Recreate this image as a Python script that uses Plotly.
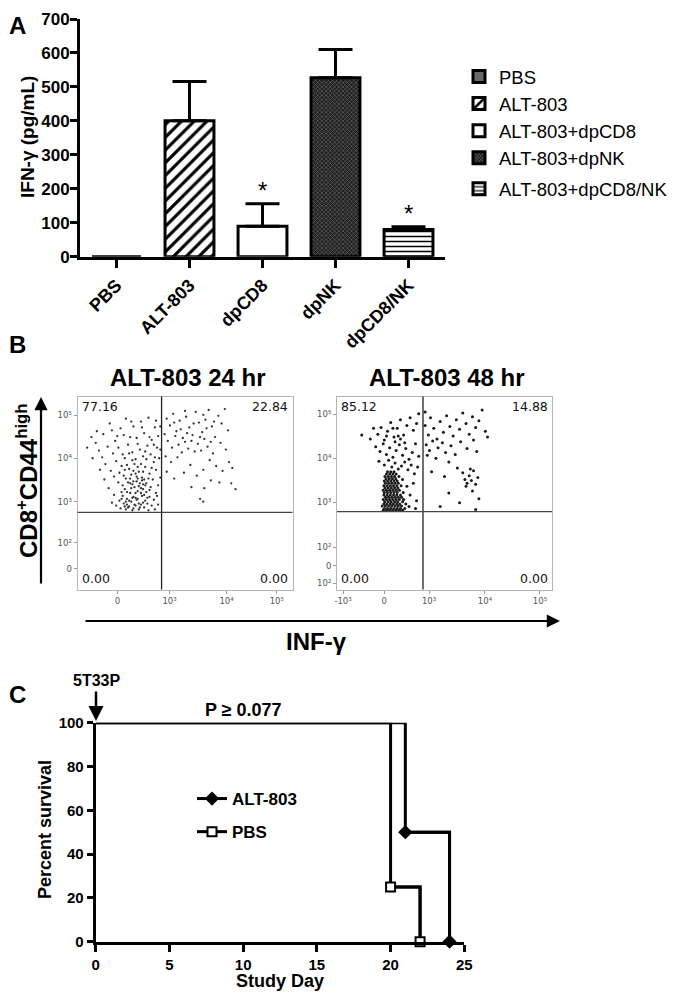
import plotly.graph_objects as go

FONT = "Liberation Sans, Arial, sans-serif"
W, H = 690, 1004
OX, OY = 8, 8  # page body offset of the rendered figure

# ---------------- Panel A data ----------------
categories = ["PBS", "ALT-803", "dpCD8", "dpNK", "dpCD8/NK"]
legend_names = ["PBS", "ALT-803", "ALT-803+dpCD8", "ALT-803+dpNK", "ALT-803+dpCD8/NK"]
ifn_mean = [0, 400, 90, 527, 80]
ifn_sem = [0, 116, 66, 83, 8]
significant = [False, False, True, False, True]

# ---------------- Panel B data (display channel units, 0-100) ----------------
flow24_ticks_x = [18.6, 42.8, 69.3, 92.7]
flow24_ticktext_x = ["0", "10³", "10⁴", "10⁵"]
flow24_ticks_y = [10.7, 24.2, 45.5, 68.0, 90.2]
flow24_ticktext_y = ["0", "10²", "10³", "10⁴", "10⁵"]
flow24_gate = (39.1, 40.0)
flow24_quadrants = ["77.16", "22.84", "0.00", "0.00"]  # UL, UR, LL, LR

flow48_ticks_x = [2.8, 21.9, 42.8, 68.8, 94.4]
flow48_ticktext_x = ["-10³", "0", "10³", "10⁴", "10⁵"]
flow48_ticks_y = [3.3, 12.4, 21.9, 45.2, 67.9, 90.7]
flow48_ticktext_y = ["10²", "0", "10²", "10³", "10⁴", "10⁵"]
flow48_gate = (40.0, 40.4)
flow48_quadrants = ["85.12", "14.88", "0.00", "0.00"]

flow24_events = [
    (12.0, 80.5), (15.0, 86.0), (17.5, 77.0), (20.0, 83.5), (22.5, 88.5), (24.5, 79.0), (26.0, 84.5),
    (28.0, 75.5), (29.5, 87.0), (31.0, 81.0), (33.0, 89.0), (34.5, 77.5), (36.0, 84.0), (37.5, 79.5),
    (38.5, 72.5), (8.5, 76.0), (10.0, 72.0), (11.5, 68.5), (14.0, 74.0), (16.5, 70.5), (19.0, 73.5),
    (21.0, 70.0), (23.5, 75.0), (25.5, 71.0), (27.0, 67.5), (29.0, 72.5), (30.5, 69.0), (32.5, 74.5),
    (34.0, 70.0), (35.5, 66.0), (37.0, 73.5), (38.0, 68.0), (18.0, 66.5), (20.5, 64.0), (22.0, 68.0),
    (24.0, 62.5), (26.5, 65.0), (28.5, 61.0), (31.5, 63.5), (33.5, 60.0), (36.5, 62.0), (13.0, 65.0),
    (15.5, 61.5), (17.0, 58.5), (19.5, 60.5), (22.5, 57.5), (25.0, 59.5), (27.5, 56.0), (30.0, 58.0),
    (32.0, 55.0), (35.0, 57.0), (37.5, 54.0), (6.5, 79.0), (4.5, 73.5), (9.0, 82.0),
    (20.0, 42.0), (21.5, 44.5), (22.5, 41.5), (23.0, 47.0), (24.0, 43.0), (24.5, 50.0), (25.0, 45.5),
    (25.5, 41.0), (26.0, 48.0), (26.5, 53.0), (27.0, 43.5), (27.5, 46.5), (28.0, 51.0), (28.5, 41.5),
    (29.0, 55.0), (29.5, 44.0), (30.0, 48.5), (30.5, 52.0), (31.0, 42.5), (31.5, 46.0), (32.0, 50.5),
    (32.5, 44.5), (33.0, 41.0), (21.0, 48.5), (22.0, 52.0), (23.5, 55.5), (24.5, 57.5), (26.0, 56.0),
    (27.5, 58.5), (28.5, 53.5), (30.0, 56.5), (31.5, 54.0), (33.5, 48.0), (19.5, 46.0), (20.5, 50.5),
    (22.5, 45.5), (23.5, 42.5), (25.5, 47.5), (26.5, 44.0), (28.0, 47.0), (29.0, 42.5), (30.5, 45.0),
    (23.0, 50.5), (25.0, 52.5), (27.0, 50.0), (29.5, 50.0), (31.0, 49.0), (34.5, 43.5), (35.5, 46.5),
    (36.5, 50.0), (37.5, 44.0), (18.0, 43.5), (17.0, 49.0), (34.0, 53.0), (36.0, 41.5),
    (21.0, 54.0), (22.0, 43.0), (24.0, 46.0), (25.5, 54.5), (27.0, 47.5), (28.5, 44.5), (29.5, 52.5),
    (31.0, 57.0), (32.5, 47.5), (26.0, 42.0), (23.0, 44.0), (20.5, 47.0), (33.5, 51.5), (28.0, 57.5),
    (14.5, 52.5), (12.5, 57.0), (16.0, 45.0), (38.5, 58.0), (37.0, 48.5), (10.5, 62.0), (7.0, 68.0),
    (23.0, 64.5), (25.5, 67.0), (29.5, 65.0), (32.0, 67.5), (34.5, 63.0), (21.5, 59.0), (28.0, 63.5),
    (30.5, 61.0), (26.0, 61.5), (24.0, 70.5), (27.5, 78.5), (31.5, 71.5), (33.5, 79.0), (35.5, 75.0),
    (18.5, 79.5), (16.0, 82.5), (21.5, 80.0), (25.0, 87.0), (30.0, 84.0), (36.5, 87.5), (38.5, 84.5),
    (22.0, 62.0), (36.0, 68.5), (19.0, 55.5), (33.0, 57.5), (27.0, 60.0), (24.5, 55.0), (30.5, 54.5),
    (41.5, 88.5), (43.0, 85.0), (44.5, 91.0), (46.0, 82.0), (47.5, 87.5), (49.0, 78.5), (50.5, 89.5),
    (52.0, 84.0), (53.5, 80.0), (55.0, 92.0), (56.5, 86.5), (58.0, 81.5), (59.5, 88.0), (61.0, 93.0),
    (62.5, 84.5), (64.0, 79.0), (65.5, 90.0), (67.0, 86.0), (68.5, 93.5), (70.0, 82.5), (42.0, 77.0),
    (44.0, 73.5), (45.5, 79.5), (47.0, 75.0), (48.5, 71.0), (50.0, 76.5), (51.5, 73.0), (53.0, 77.0),
    (54.5, 71.5), (56.0, 75.5), (57.5, 72.0), (59.0, 78.0), (60.5, 74.0), (63.0, 70.5), (66.5, 76.0),
    (69.0, 72.5), (41.0, 69.0), (43.5, 66.0), (46.5, 68.5), (52.5, 64.5), (58.5, 62.0), (61.5, 67.0),
    (64.5, 64.0), (67.5, 61.5), (70.5, 66.0), (72.0, 63.0), (55.5, 59.0), (49.5, 60.5), (62.0, 56.5),
    (71.5, 55.0), (66.0, 55.5), (53.0, 53.0), (45.0, 57.5), (59.0, 52.5), (73.5, 52.0), (57.0, 47.0),
    (58.5, 45.5), (41.5, 61.0), (40.5, 80.5), (45.0, 86.5), (51.0, 81.0), (54.0, 86.0), (57.0, 79.0),
    (60.0, 83.5), (63.5, 87.0), (48.0, 83.0), (50.0, 92.5), (58.5, 90.5), (62.0, 76.5),
]

# dense low-IFN cluster at 48 hr: (y level, x positions)
flow48_cluster_rows = [
    (41.0, [21.5, 23.0, 24.5, 26.0, 27.5, 29.0, 30.5]),
    (42.0, [22.0, 23.5, 25.0, 26.5, 28.0, 29.5, 31.5]),
    (43.2, [21.0, 22.5, 24.0, 25.5, 27.0, 28.5, 30.0]),
    (44.3, [21.8, 23.2, 24.8, 26.2, 27.8, 29.2, 32.0]),
    (45.5, [22.2, 23.8, 25.2, 26.8, 28.2, 30.5]),
    (46.6, [21.5, 23.0, 24.5, 26.0, 27.5, 29.0, 31.0]),
    (47.8, [22.5, 24.0, 25.5, 27.0, 28.5, 30.0]),
    (49.0, [21.8, 23.3, 24.8, 26.3, 27.8, 29.5]),
    (50.2, [22.0, 23.5, 25.0, 26.5, 28.0, 30.8]),
    (51.4, [21.5, 23.0, 24.5, 26.0, 27.5, 29.0]),
    (52.6, [22.3, 23.8, 25.3, 26.8, 28.3]),
    (53.8, [21.8, 23.3, 24.8, 26.3, 27.8, 29.8]),
    (55.0, [22.5, 24.0, 25.5, 27.0, 28.5]),
    (56.2, [22.0, 23.5, 25.0, 26.5, 28.0]),
    (57.4, [22.8, 24.3, 25.8, 27.3]),
    (58.6, [22.3, 23.8, 25.3, 26.8, 28.8]),
    (59.8, [23.0, 24.5, 26.0, 27.5]),
    (61.0, [23.5, 25.0, 26.5]),
]

flow48_events = [
    (19.0, 80.5), (20.5, 84.0), (22.0, 77.5), (23.5, 82.0), (25.0, 86.5), (26.5, 79.0), (28.0, 83.5),
    (29.5, 88.0), (31.0, 80.0), (32.5, 85.0), (34.0, 89.0), (35.5, 82.5), (37.0, 86.0), (38.0, 91.0),
    (18.0, 74.0), (20.0, 71.5), (21.5, 75.5), (23.0, 70.0), (24.5, 73.5), (26.0, 68.5), (27.5, 72.0),
    (29.0, 75.0), (30.5, 69.5), (32.0, 73.0), (33.5, 67.5), (35.0, 71.0), (36.5, 75.5), (38.0, 69.0),
    (19.5, 66.5), (22.0, 64.5), (24.0, 67.0), (25.5, 63.5), (27.0, 65.5), (28.5, 62.5), (30.0, 64.0),
    (31.5, 66.0), (33.0, 62.0), (34.5, 64.5), (36.0, 60.0), (37.5, 63.5), (30.5, 57.0), (32.5, 53.5),
    (34.0, 49.0), (35.5, 55.0), (37.0, 46.0), (33.5, 43.0), (36.5, 42.0), (11.5, 80.0), (15.5, 78.0),
    (17.0, 83.5), (27.0, 76.5), (23.0, 79.5), (29.5, 78.0), (31.5, 76.0), (26.0, 83.5), (28.5, 79.5),
    (41.0, 85.0), (42.5, 80.0), (43.5, 89.0), (45.0, 83.5), (46.5, 78.0), (48.0, 87.0), (49.5, 81.5),
    (51.0, 90.0), (52.5, 84.5), (54.0, 79.5), (55.5, 88.0), (57.0, 83.0), (58.5, 91.5), (60.0, 86.0),
    (61.5, 80.5), (63.0, 89.5), (64.5, 84.0), (66.0, 87.5), (67.5, 93.0), (69.0, 82.0), (41.5, 75.0),
    (43.0, 72.0), (44.5, 77.0), (47.0, 73.5), (49.0, 76.0), (50.5, 71.0), (53.0, 74.5), (55.0, 70.0),
    (57.5, 76.5), (60.5, 73.0), (63.5, 77.5), (65.0, 71.5), (70.0, 79.0), (46.0, 68.0), (52.0, 66.0),
    (56.0, 63.0), (44.0, 61.0), (50.0, 58.5), (58.5, 60.5), (59.5, 57.0), (60.5, 55.0), (61.5, 59.0),
    (62.5, 56.5), (63.5, 61.5), (64.5, 54.5), (65.5, 58.0), (62.0, 62.5), (60.0, 53.5), (63.0, 51.0),
    (52.0, 50.0), (57.0, 45.0), (66.0, 47.0), (48.0, 43.0), (64.5, 41.5), (41.0, 92.0), (42.0, 69.5),
]

# ---------------- Panel C data ----------------
alt_days = [0, 21, 24]
alt_surv = [100, 50, 0]
pbs_days = [0, 20, 22]
pbs_surv = [100, 25, 0]
survival_xticks = [0, 5, 10, 15, 20, 25]
survival_yticks = [0, 20, 40, 60, 80, 100]


def px(x):
    return (x - OX) / W


def py(y):
    return 1 - (y - OY) / H


fig = go.Figure()

# ---------------- Panel A bars ----------------
styles = [
    dict(color="#6a6a6a", pattern=dict(shape="")),
    dict(color="white", pattern=dict(shape="/", fgcolor="black", bgcolor="white", size=9, solidity=0.35)),
    dict(color="white", pattern=dict(shape="")),
    dict(color="#1e1e1e", pattern=dict(shape="x", fgcolor="#6e6e6e", bgcolor="#1e1e1e", size=3, solidity=0.35)),
    dict(color="white", pattern=dict(shape="-", fgcolor="black", bgcolor="white", size=5, solidity=0.3)),
]
groups = ["g1", "g1", "g1", "g1", "g2"]
for i, cat in enumerate(categories):
    st = styles[i]
    fig.add_trace(go.Bar(
        x=[cat], y=[ifn_mean[i]], name=legend_names[i], width=0.67, legendgroup=groups[i],
        marker=dict(color=st["color"], line=dict(color="black", width=3), pattern=st["pattern"]),
        error_y=dict(type="data", array=[ifn_sem[i]], arrayminus=[0], symmetric=False,
                     thickness=3, width=17, color="black", visible=ifn_sem[i] > 0),
        xaxis="x", yaxis="y", legend="legend",
    ))

annotations = []
for i, cat in enumerate(categories):
    if significant[i]:
        annotations.append(dict(x=cat, y=ifn_mean[i] + ifn_sem[i], xref="x", yref="y", text="*",
                                showarrow=False, yshift=13, font=dict(size=24, color="black", family=FONT)))

# ---------------- Panel B flow plots ----------------
fx24 = [p[0] for p in flow24_events]
fy24 = [p[1] for p in flow24_events]
fig.add_trace(go.Scatter(x=fx24, y=fy24, mode="markers", xaxis="x2", yaxis="y2", showlegend=False,
                         marker=dict(size=2.3, color="#333")))

fx48 = [p[0] for p in flow48_events]
fy48 = [p[1] for p in flow48_events]
for yv, xs in flow48_cluster_rows:
    for xv in xs:
        fx48.append(xv)
        fy48.append(yv)
fig.add_trace(go.Scatter(x=fx48, y=fy48, mode="markers", xaxis="x3", yaxis="y3", showlegend=False,
                         marker=dict(size=3.0, color="#1a1a1a")))

shapes = []
for ax, gate in (("2", flow24_gate), ("3", flow48_gate)):
    shapes.append(dict(type="line", xref="x" + ax, yref="y" + ax + " domain", x0=gate[0], x1=gate[0],
                       y0=0, y1=1, line=dict(color="#222", width=1.3)))
    shapes.append(dict(type="line", xref="x" + ax + " domain", yref="y" + ax, x0=0, x1=1,
                       y0=gate[1], y1=gate[1], line=dict(color="#444", width=1.3)))

for ax, q in (("2", flow24_quadrants), ("3", flow48_quadrants)):
    pos = [(0.01, 0.995, "left", "top"), (0.99, 0.995, "right", "top"),
           (0.01, 0.01, "left", "bottom"), (0.99, 0.01, "right", "bottom")]
    for (xx, yy, xa, ya), txt in zip(pos, q):
        annotations.append(dict(x=xx, y=yy, xref="x" + ax + " domain", yref="y" + ax + " domain",
                                text=txt, showarrow=False, xanchor=xa, yanchor=ya,
                                font=dict(family="DejaVu Sans", size=12.5, color="#111")))

# ---------------- Panel C survival ----------------
fig.add_trace(go.Scatter(x=alt_days, y=alt_surv, mode="lines", line=dict(color="black", width=3, shape="hv"),
                         xaxis="x4", yaxis="y4", showlegend=False))
fig.add_trace(go.Scatter(x=pbs_days, y=pbs_surv, mode="lines", line=dict(color="black", width=3, shape="hv"),
                         xaxis="x4", yaxis="y4", showlegend=False))
fig.add_trace(go.Scatter(x=alt_days[1:], y=alt_surv[1:], mode="lines+markers", name="ALT-803",
                         line=dict(color="black", width=3, shape="hv"), cliponaxis=False,
                         marker=dict(symbol="diamond", size=11, color="black"),
                         xaxis="x4", yaxis="y4", legend="legend2", legendgroup="a"))
fig.add_trace(go.Scatter(x=pbs_days[1:], y=pbs_surv[1:], mode="lines+markers", name="PBS",
                         line=dict(color="black", width=3, shape="hv"), cliponaxis=False,
                         marker=dict(symbol="square", size=9, color="white", line=dict(color="black", width=2)),
                         xaxis="x4", yaxis="y4", legend="legend2", legendgroup="b"))

# ---------------- Text annotations ----------------
bold = dict(family=FONT, color="black", weight="bold")
texts = [
    ("A", 17, 26, 24, 0), ("B", 17, 345, 24, 0), ("C", 17, 694, 24, 0),
    ("IFN-γ (pg/mL)", 27, 137, 19, -90),
    ("ALT-803 24 hr", 188, 377, 24, 0), ("ALT-803 48 hr", 447, 377, 24, 0),
    ("CD8<sup>+</sup>CD44<sup>high</sup>", 27, 481, 24, -90),
    ("INF-γ", 316, 641, 24, 0),
    ("5T33P", 96, 680, 16, 0), ("P ≥ 0.077", 243, 710, 18, 0),
    ("Percent survival", 45, 830, 18, -90), ("Study Day", 280, 981, 18, 0),
]
for t, x, y, s, ang in texts:
    annotations.append(dict(x=px(x), y=py(y), xref="paper", yref="paper", text=t, showarrow=False,
                            textangle=ang, xanchor="center", yanchor="middle", font=dict(size=s, **bold)))

# arrows
annotations.append(dict(x=px(41), y=py(397), xref="paper", yref="paper", ax=0, ay=188, text="",
                        showarrow=True, arrowhead=2, arrowsize=1.2, arrowwidth=2.2, arrowcolor="black"))
annotations.append(dict(x=px(560), y=py(621), xref="paper", yref="paper", ax=-476, ay=0, text="",
                        showarrow=True, arrowhead=2, arrowsize=1.2, arrowwidth=2.2, arrowcolor="black"))
annotations.append(dict(x=px(96), y=py(721), xref="paper", yref="paper", ax=0, ay=-31, text="",
                        showarrow=True, arrowhead=2, arrowsize=1.2, arrowwidth=2.5, arrowcolor="black"))

flow_axis = dict(showline=True, mirror=True, linecolor="#b5b5b5", linewidth=1, showgrid=False, zeroline=False,
                 ticks="outside", ticklen=3, tickcolor="#999", automargin=False,
                 tickfont=dict(family="DejaVu Sans", size=8.5, color="#555"),
                 range=[0, 100], fixedrange=True)

fig.update_layout(
    template="none",
    width=W, height=H, margin=dict(l=0, r=0, t=0, b=0, pad=0, autoexpand=False),
    paper_bgcolor="white", plot_bgcolor="white", barmode="overlay",
    font=dict(family=FONT, color="black"),
    xaxis=dict(domain=[px(80), px(445)], anchor="y", type="category", categoryorder="array",
               categoryarray=categories, showline=True, linewidth=3, linecolor="black",
               ticks="outside", ticklen=8, tickwidth=3, tickcolor="black", tickangle=-45,
               tickfont=dict(size=18, **bold), showgrid=False, zeroline=False, automargin=False,
               ticklabeloverflow="allow"),
    yaxis=dict(domain=[py(256.7), py(19)], anchor="x", range=[0, 700], dtick=100, showline=True,
               linewidth=3, linecolor="black", ticks="outside", ticklen=7, tickwidth=3, tickcolor="black",
               tickfont=dict(size=17, **bold), showgrid=False, zeroline=False, automargin=False,
               ticklabelstandoff=-3, ticklabeloverflow="allow"),
    xaxis2=dict(domain=[px(77.5), px(292.5)], anchor="y2", tickvals=flow24_ticks_x, ticktext=flow24_ticktext_x,
                **flow_axis),
    yaxis2=dict(domain=[py(589.5), py(396.5)], anchor="x2", tickvals=flow24_ticks_y, ticktext=flow24_ticktext_y,
                **flow_axis),
    xaxis3=dict(domain=[px(337), px(552)], anchor="y3", tickvals=flow48_ticks_x, ticktext=flow48_ticktext_x,
                **flow_axis),
    yaxis3=dict(domain=[py(589.5), py(396.5)], anchor="x3", tickvals=flow48_ticks_y, ticktext=flow48_ticktext_y,
                **flow_axis),
    xaxis4=dict(domain=[px(95.7), px(464.3)], anchor="y4", range=[0, 25], tickvals=survival_xticks,
                showline=True, linewidth=3, linecolor="black", ticks="outside", ticklen=7, tickwidth=3,
                tickcolor="black", tickfont=dict(size=15, **bold), showgrid=False, zeroline=False,
                automargin=False, ticklabeloverflow="allow"),
    yaxis4=dict(domain=[py(941.7), py(722.7)], anchor="x4", range=[0, 100], tickvals=survival_yticks,
                showline=True, linewidth=3, linecolor="black", ticks="outside", ticklen=6, tickwidth=3,
                tickcolor="black", tickfont=dict(size=15, **bold), showgrid=False, zeroline=False,
                automargin=False, ticklabeloverflow="allow"),
    legend=dict(x=px(459), y=py(58), xanchor="left", yanchor="top", font=dict(size=18.5, family=FONT),
                bgcolor="rgba(0,0,0,0)", tracegroupgap=4, traceorder="grouped", borderwidth=0),
    legend2=dict(x=px(192), y=py(781), xanchor="left", yanchor="top", font=dict(size=17, **bold),
                 bgcolor="rgba(0,0,0,0)", tracegroupgap=8, itemwidth=30, traceorder="grouped"),
    annotations=annotations, shapes=shapes,
)

fig.write_html("out.html")
